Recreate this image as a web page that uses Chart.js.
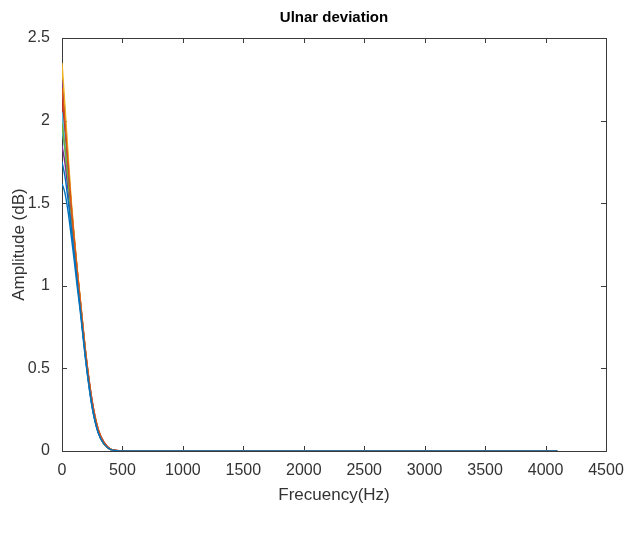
<!DOCTYPE html>
<html>
<head>
<meta charset="utf-8">
<script src="https://cdn.jsdelivr.net/npm/chart.js@4"></script>
<style>
  html, body { margin: 0; padding: 0; background: #fff; }
  #wrap { width: 641px; height: 538px; }
</style>
</head>
<body>
<div id="wrap"><canvas id="myChart"></canvas></div>
<script>
// frequency samples (Hz)
const freqs = [0, 25, 50, 75, 100, 125, 150, 200, 250, 300, 350, 400, 450, 500, 4096];

// amplitude of each trace
const amp1  = [1.75, 1.66, 1.52, 1.36, 1.20, 1.03, 0.87, 0.53, 0.27, 0.11, 0.04, 0.010, 0.002, 0, 0];
const amp2  = [2.20, 1.98, 1.74, 1.50, 1.29, 1.10, 0.92, 0.57, 0.30, 0.13, 0.05, 0.012, 0.003, 0, 0];
const amp3  = [2.35, 2.08, 1.80, 1.53, 1.31, 1.11, 0.93, 0.57, 0.29, 0.13, 0.04, 0.012, 0.002, 0, 0];
const amp4  = [2.25, 2.00, 1.74, 1.49, 1.28, 1.09, 0.91, 0.56, 0.29, 0.12, 0.04, 0.011, 0.002, 0, 0];
const amp5  = [1.98, 1.83, 1.64, 1.44, 1.25, 1.07, 0.90, 0.55, 0.28, 0.12, 0.04, 0.010, 0.002, 0, 0];
const amp6  = [2.05, 1.87, 1.67, 1.45, 1.26, 1.08, 0.90, 0.55, 0.28, 0.12, 0.04, 0.010, 0.002, 0, 0];
const amp7  = [2.15, 1.95, 1.72, 1.49, 1.29, 1.10, 0.92, 0.57, 0.30, 0.13, 0.05, 0.012, 0.003, 0, 0];
const amp8  = [1.62, 1.56, 1.45, 1.31, 1.16, 1.00, 0.85, 0.52, 0.26, 0.11, 0.04, 0.010, 0.002, 0, 0];
const amp9  = [2.12, 1.92, 1.70, 1.47, 1.28, 1.09, 0.91, 0.56, 0.29, 0.12, 0.04, 0.011, 0.002, 0, 0];
const amp10 = [2.30, 2.04, 1.77, 1.51, 1.30, 1.10, 0.92, 0.56, 0.29, 0.12, 0.04, 0.011, 0.002, 0, 0];
const amp11 = [1.85, 1.74, 1.58, 1.40, 1.23, 1.05, 0.88, 0.54, 0.27, 0.11, 0.04, 0.010, 0.002, 0, 0];
const amp12 = [2.02, 1.85, 1.65, 1.44, 1.25, 1.07, 0.89, 0.55, 0.28, 0.12, 0.04, 0.010, 0.002, 0, 0];
const amp13 = [1.95, 1.81, 1.62, 1.42, 1.24, 1.06, 0.88, 0.54, 0.27, 0.11, 0.04, 0.010, 0.002, 0, 0];

const series = [amp1, amp2, amp3, amp4, amp5, amp6, amp7, amp8, amp9, amp10, amp11, amp12, amp13];
const colors = ['#0072BD', '#D95319', '#EDB120', '#7E2F8E', '#77AC30', '#4DBEEE', '#A2142F'];

const xTicks = [0, 500, 1000, 1500, 2000, 2500, 3000, 3500, 4000, 4500];
const yTicks = [0, 0.5, 1, 1.5, 2, 2.5];

const axisColor = '#3a3a3a';
const fontFam = 'Liberation Sans, Arial, sans-serif';

// box around the axes + inward tick marks (matlab style)
const boxPlugin = {
  id: 'box',
  beforeDatasetsDraw(chart) {
    const { ctx, chartArea: a, scales } = chart;
    ctx.save();
    ctx.strokeStyle = axisColor;
    ctx.lineWidth = 1;
    ctx.strokeRect(a.left + 0.5, a.top + 0.5, a.right - a.left, a.bottom - a.top);
    ctx.beginPath();
    xTicks.forEach(v => {
      const x = Math.round(scales.x.getPixelForValue(v)) + 0.5;
      ctx.moveTo(x, a.bottom); ctx.lineTo(x, a.bottom - 5);
      ctx.moveTo(x, a.top); ctx.lineTo(x, a.top + 5);
    });
    yTicks.forEach(v => {
      const y = Math.round(scales.y.getPixelForValue(v)) + 0.5;
      ctx.moveTo(a.left, y); ctx.lineTo(a.left + 5, y);
      ctx.moveTo(a.right, y); ctx.lineTo(a.right - 5, y);
    });
    ctx.stroke();
    ctx.restore();
  }
};

const ctx1 = document.getElementById('myChart');
new Chart(ctx1, {
  type: 'line',
  data: {
    datasets: series.map((s, i) => ({
      label: 'trace ' + (i + 1),
      data: freqs.map((f, j) => ({ x: f, y: s[j] })),
      borderColor: colors[i % colors.length],
      borderWidth: 1.4,
      pointRadius: 0,
      fill: false,
      cubicInterpolationMode: 'monotone'
    }))
  },
  options: {
    responsive: true,
    maintainAspectRatio: false,
    animation: false,
    layout: { padding: { left: 4, right: 35, top: 0, bottom: 28 } },
    plugins: {
      legend: { display: false },
      tooltip: { enabled: false },
      title: {
        display: true,
        text: 'Ulnar deviation',
        fullSize: false,
        color: '#000',
        font: { family: fontFam, size: 15, weight: 'bold' },
        padding: { top: 9, bottom: 11 }
      }
    },
    scales: {
      x: {
        type: 'linear',
        min: 0,
        max: 4500,
        afterFit(scale) { scale.height = 59; },
        grid: { display: false, drawTicks: false },
        border: { display: false },
        ticks: {
          stepSize: 500,
          padding: 10,
          maxRotation: 0,
          color: '#333',
          font: { family: fontFam, size: 16 },
          callback: v => String(v)
        },
        title: {
          display: true,
          text: 'Frecuency(Hz)',
          color: '#333',
          font: { family: fontFam, size: 17 },
          padding: { top: 0, bottom: 4 }
        }
      },
      y: {
        min: 0,
        max: 2.5,
        afterFit(scale) { scale.width = 58; },
        grid: { display: false, drawTicks: false },
        border: { display: false },
        ticks: {
          stepSize: 0.5,
          padding: 12,
          color: '#333',
          font: { family: fontFam, size: 16 },
          callback: v => String(v)
        },
        title: {
          display: true,
          text: 'Amplitude (dB)',
          color: '#333',
          font: { family: fontFam, size: 17 },
          padding: { top: 5, bottom: 0 }
        }
      }
    }
  },
  plugins: [boxPlugin]
});
</script>
</body>
</html>
